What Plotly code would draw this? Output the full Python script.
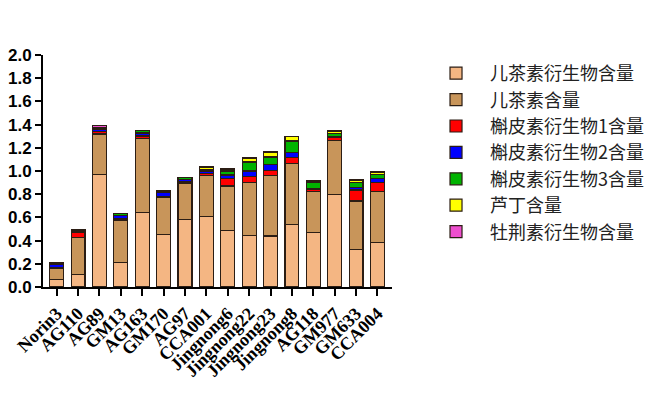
import plotly.graph_objects as go

categories = ["Norin3", "AG110", "AG89", "GM13", "AG163", "GM170", "AG97", "CCA001",
              "Jingnong6", "Jingnong22", "Jingnong23", "Jingnong8", "AG118", "GM977", "GM633", "CCA004"]

catechin_deriv = [0.066, 0.106, 0.971, 0.210, 0.641, 0.454, 0.584, 0.608, 0.485, 0.442, 0.440, 0.540, 0.471, 0.799, 0.325, 0.385]
catechin =       [0.095, 0.322, 0.348, 0.368, 0.641, 0.319, 0.312, 0.352, 0.386, 0.458, 0.518, 0.526, 0.349, 0.465, 0.416, 0.437]
quercetin_d1 =   [0.010, 0.045, 0.020, 0.015, 0.020, 0.010, 0.010, 0.020, 0.066, 0.054, 0.049, 0.052, 0.020, 0.030, 0.095, 0.082]
quercetin_d2 =   [0.025, 0.010, 0.020, 0.025, 0.025, 0.030, 0.020, 0.020, 0.029, 0.046, 0.048, 0.043, 0.010, 0.005, 0.024, 0.030]
quercetin_d3 =   [0.010, 0.010, 0.010, 0.015, 0.020, 0.015, 0.020, 0.015, 0.034, 0.077, 0.066, 0.098, 0.050, 0.025, 0.040, 0.035]
rutin =          [0.000, 0.000, 0.005, 0.000, 0.000, 0.000, 0.000, 0.020, 0.017, 0.035, 0.043, 0.037, 0.010, 0.020, 0.022, 0.015]
kaempferol_d =   [0.005, 0.005, 0.015, 0.000, 0.000, 0.005, 0.000, 0.005, 0.005, 0.000, 0.000, 0.000, 0.004, 0.004, 0.003, 0.012]

y_ticks = [0, 0.2, 0.4, 0.6, 0.8, 1.0, 1.2, 1.4, 1.6, 1.8, 2.0]
y_tick_labels = ["0.0", "0.2", "0.4", "0.6", "0.8", "1.0", "1.2", "1.4", "1.6", "1.8", "2.0"]

series = [
    ("儿茶素衍生物含量", catechin_deriv, "#F4B683"),
    ("儿茶素含量", catechin, "#C8955A"),
    ("槲皮素衍生物1含量", quercetin_d1, "#FF0000"),
    ("槲皮素衍生物2含量", quercetin_d2, "#0000FF"),
    ("槲皮素衍生物3含量", quercetin_d3, "#00B300"),
    ("芦丁含量", rutin, "#FFFF00"),
    ("牡荆素衍生物含量", kaempferol_d, "#EE4FCF"),
]

fig = go.Figure()
for i, (name, vals, color) in enumerate(series):
    fig.add_trace(go.Bar(
        x=categories, y=vals, name=name, legendgroup=f"g{i}",
        marker=dict(color=color, line=dict(color="#2b1d14", width=1.2)),
    ))

fig.update_layout(
    barmode="stack",
    bargap=0.35,
    width=665, height=394,
    margin=dict(l=35, r=281, t=47, b=115, autoexpand=False),
    paper_bgcolor="white", plot_bgcolor="white",
    showlegend=True,
    legend=dict(
        x=1.086, xanchor="left", y=1.0, yanchor="top",
        traceorder="normal",
        font=dict(family="Noto Sans CJK SC", size=18, color="#222"),
        tracegroupgap=5,
        itemwidth=58,
        bgcolor="rgba(0,0,0,0)",
    ),
    xaxis=dict(
        range=[-0.64, 15.68], automargin=False,
        tickmode="array", tickvals=categories, ticktext=categories,
        showline=True, linecolor="black", linewidth=2,
        ticks="outside", ticklen=7, tickwidth=2, tickcolor="black",
        tickangle=-45,
        tickfont=dict(family="Liberation Serif", size=18, color="black", weight="bold"),
        showgrid=False, zeroline=False,
    ),
    yaxis=dict(
        range=[0, 2.0], automargin=False,
        tickmode="array", tickvals=y_ticks, ticktext=y_tick_labels,
        showline=True, linecolor="black", linewidth=2,
        ticks="outside", ticklen=6, tickwidth=2, tickcolor="black",
        tickfont=dict(family="Liberation Sans", size=17, color="black", weight="bold"),
        showgrid=False, zeroline=False,
    ),
)

fig.write_html("out.html")
